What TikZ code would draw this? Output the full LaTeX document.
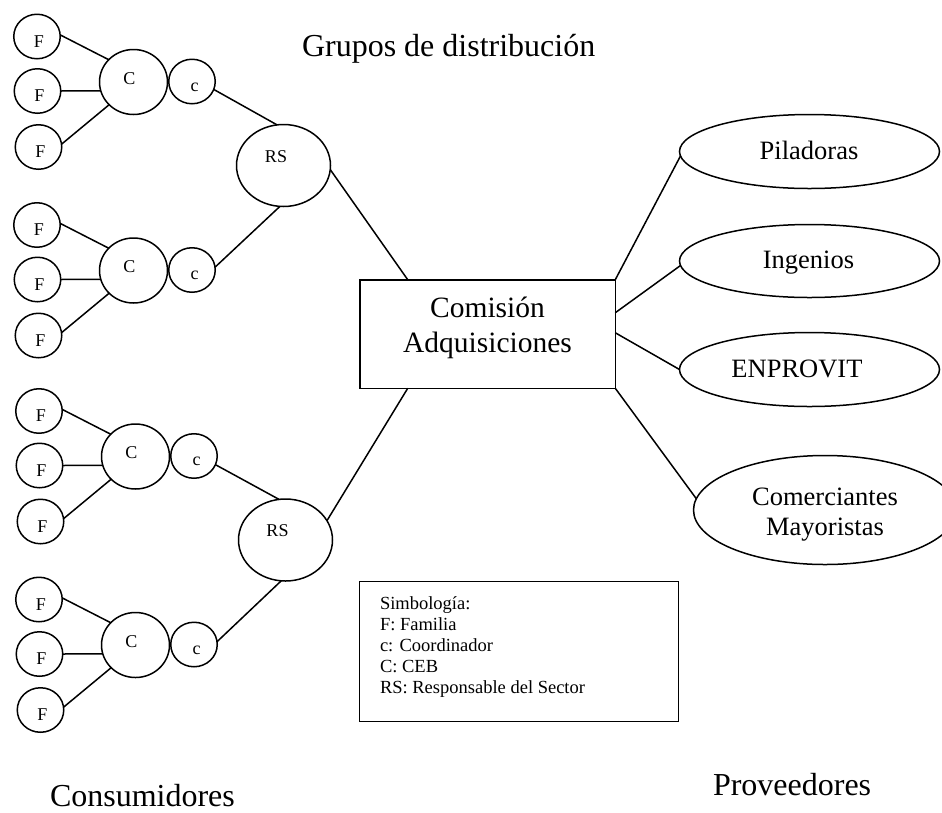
\documentclass[tikz,border=0pt]{standalone}
\usepackage{fontspec}
\setmainfont{Liberation Serif}
\usetikzlibrary{shapes.geometric}

\tikzset{
  every node/.style={inner sep=0pt, outer sep=0pt},
  ln/.style={line width=1.5pt},
  txtsmall/.style={font=\fontsize{18}{21}\selectfont, anchor=base},
  txtmid/.style={font=\fontsize{26.5}{30}\selectfont, anchor=base},
  txtbox/.style={font=\fontsize{29.5}{35}\selectfont, anchor=base},
  txttitle/.style={font=\fontsize{32}{38}\selectfont, anchor=base west},
  txtleg/.style={font=\fontsize{18.5}{21}\selectfont, anchor=base west},
  famnode/.style={draw, ellipse, ln, minimum width=46.5pt, minimum height=44.5pt},
  cebnode/.style={draw, ellipse, ln, minimum width=68pt, minimum height=65pt},
  coordnode/.style={draw, ellipse, ln, minimum width=46.5pt, minimum height=44.5pt},
  rsnode/.style={draw, ellipse, ln, minimum width=94pt, minimum height=82pt},
  provnode/.style={draw, ellipse, ln, minimum width=260pt, minimum height=74pt},
  boxnode/.style={draw, rectangle, ln},
}

\begin{document}
\begin{tikzpicture}[x=1pt, y=-1pt]
\useasboundingbox (0,0) rectangle (942,812);

% consumer groups: three families around a CEB, with its coordinator
\foreach \g/\cx/\cy in {1/133.5/82, 2/133.5/270.5, 3/135.5/456.5, 4/135.5/645} {
  \node[cebnode] (C\g) at (\cx,\cy) {};
  \node[coordnode] (c\g) at (\cx+58.5,\cy-0.5) {};
  \node[famnode] (Fa\g) at (\cx-96.5,\cy-45.5) {};
  \node[famnode] (Fb\g) at (\cx-96,\cy+9) {};
  \node[famnode] (Fc\g) at (\cx-95,\cy+65) {};
  \node[txtsmall] (tC\g) at ([xshift=-4pt,yshift=-2pt]C\g.center) {C};
  \node[txtsmall] (tc\g) at ([xshift=2.5pt,yshift=-9.5pt]c\g.center) {c};
  \node[txtsmall] (tFa\g) at ([xshift=2pt,yshift=-10.5pt]Fa\g.center) {F};
  \node[txtsmall] (tFb\g) at ([xshift=2pt,yshift=-10.5pt]Fb\g.center) {F};
  \node[txtsmall] (tFc\g) at ([xshift=2pt,yshift=-10.5pt]Fc\g.center) {F};
  \draw[ln] (Fa\g.4) -- (C\g.138);
  \draw[ln] (Fb\g.0) -- (C\g.195);
  \draw[ln] (Fc\g.7) -- (C\g.223);
}

% sector leaders
\node[rsnode] (RS1) at (283.5,165.5) {};
\node[rsnode] (RS2) at (285.5,540) {};
\node[txtsmall] (tRS1) at ([xshift=-7.5pt,yshift=3.5pt]RS1.center) {RS};
\node[txtsmall] (tRS2) at ([xshift=-8pt,yshift=4pt]RS2.center) {RS};

\draw[ln] (c1.340) -- (RS1.99);
\draw[ln] (c2.7) -- (RS1.265);
\draw[ln] (c3.338) -- (RS2.99);
\draw[ln] (c4.7) -- (RS2.264);

% purchasing commission
\node[boxnode, minimum width=255.5pt, minimum height=108.5pt] (com) at (487.5,334) {};
\node[txtbox] (com1) at ([yshift=17pt]com.center) {Comisión};
\node[txtbox] (com2) at ([yshift=-18pt]com.center) {Adquisiciones};

\draw[ln] (RS1.-5) -- ([xshift=48pt]com.north west);
\draw[ln] (RS2.25) -- ([xshift=48pt]com.south west);

% suppliers
\node[provnode] (pil) at (809.5,151.5) {};
\node[provnode, minimum height=73pt] (ing) at (809.5,261) {};
\node[provnode] (enp) at (809.5,369.5) {};
\node[provnode, minimum width=263pt, minimum height=109pt] (mer) at (825,510) {};
\node[txtmid] (tpil) at ([xshift=-0.5pt,yshift=-7.5pt]pil.center) {Piladoras};
\node[txtmid] (ting) at ([xshift=-1pt,yshift=-7pt]ing.center) {Ingenios};
\node[txtmid] (tenp) at ([xshift=-12.5pt,yshift=-7.5pt]enp.center) {ENPROVIT};
\node[txtmid] (tmer1) at ([yshift=5pt]mer.center) {Comerciantes};
\node[txtmid] (tmer2) at ([yshift=-25pt]mer.center) {Mayoristas};

\draw[ln] (com.north east) -- (pil.182);
\draw[ln] ([yshift=-33pt]com.north east) -- (ing.182);
\draw[ln] ([yshift=-53pt]com.north east) -- (enp.180);
\draw[ln] (com.south east) -- (mer.175);

% legend
\node[boxnode, minimum width=319pt, minimum height=140pt] (leg) at (519,651.5) {};
\foreach \t [count=\k] in {Simbología:, F: Familia, c: Coordinador, C: CEB, RS: Responsable del Sector}
  \node[txtleg] (leg\k) at (380,588+21*\k) {\t};

% headings
\node[txttitle] (ttlgrp) at (302,56) {Grupos de distribución};
\node[txttitle] (ttlcons) at (50,806) {Consumidores};
\node[txttitle] (ttlprov) at (713,795) {Proveedores};
\end{tikzpicture}
\end{document}
